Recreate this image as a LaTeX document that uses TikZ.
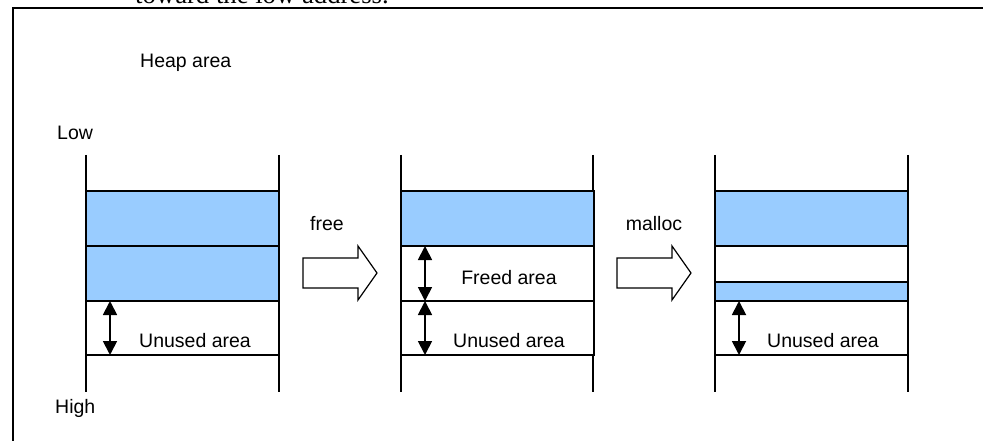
\documentclass[tikz,border=0pt]{standalone}
\usepackage{fontspec}
\setmainfont{Liberation Sans}
\newfontfamily\pageserif{Liberation Serif}
\usetikzlibrary{positioning,arrows.meta}
\definecolor{heapblue}{RGB}{153,204,255}
\tikzset{
  lane/.style={line width=1.3pt},
  cell/.style={draw, line width=1.3pt, minimum width=193pt, inner sep=0pt, outer sep=0pt},
  used/.style={cell, fill=heapblue},
  spare/.style={cell, fill=white},
  span/.style={line width=1.8pt, {Triangle[width=14pt,length=14pt]}-{Triangle[width=14pt,length=14pt]}},
  hollow/.style={draw, line width=1.2pt, fill=white},
  txt/.style={font=\fontsize{19.5}{22}\selectfont, inner sep=0pt, anchor=base}
}
\begin{document}
\begin{tikzpicture}[x=1pt, y=-1pt]
    \clip (0,0) rectangle (983,441);
    % Page text cut by the top edge
    \node[txt, anchor=base west, font=\pageserif\fontsize{26.7}{30}\selectfont] (pagetext) at (135,4) {toward the low address.};

    % Frame and titles
    \draw[line width=2pt] (13,450) |- (990,8);
    \node[txt, anchor=base west] (heap) at (140,68) {Heap area};
    \node[txt, anchor=base west] (low) at (57,140) {Low};
    \node[txt, anchor=base west] (high) at (55,413) {High};

    % Lifelines of the three heaps
    \foreach \x in {86,279,401,593,715,908}
        \draw[lane] (\x,155) -- (\x,392);

    % Before free
    \node[used, minimum height=55pt, anchor=north west] (a1) at (86,191) {};
    \node[used, minimum height=55pt, below=0pt of a1] (a2) {};
    \node[spare, minimum height=54pt, below=0pt of a2] (a3) {};
    \draw[span] ([xshift=24pt]a3.north west) -- ([xshift=24pt]a3.south west);
    \node[txt] (a3text) at (195,347) {Unused area};

    % free
    \node[txt] (free) at (327,230) {free};
    \coordinate (freearrow) at (303,273);
    \draw[hollow] (freearrow) ++(0,-15) -- ++(55,0) -- ++(0,-12) -- ++(19,27)
        -- ++(-19,27) -- ++(0,-12) -- ++(-55,0) -- cycle;

    % After free
    \node[used, minimum height=55pt, anchor=north west] (b1) at (401,191) {};
    \node[spare, minimum height=55pt, below=0pt of b1] (b2) {};
    \node[spare, minimum height=54pt, below=0pt of b2] (b3) {};
    \draw[span] ([xshift=24pt]b2.north west) -- ([xshift=24pt]b2.south west);
    \draw[span] ([xshift=24pt]b3.north west) -- ([xshift=24pt]b3.south west);
    \node[txt] (b2text) at (509,284) {Freed area};
    \node[txt] (b3text) at (509,347) {Unused area};

    % malloc
    \node[txt] (malloc) at (654,230) {malloc};
    \coordinate (mallocarrow) at (617,273);
    \draw[hollow] (mallocarrow) ++(0,-15) -- ++(55,0) -- ++(0,-12) -- ++(19,27)
        -- ++(-19,27) -- ++(0,-12) -- ++(-55,0) -- cycle;

    % After malloc
    \node[used, minimum height=55pt, anchor=north west] (c1) at (715,191) {};
    \node[spare, minimum height=36pt, below=0pt of c1] (c2) {};
    \node[used, minimum height=19pt, below=0pt of c2] (c3) {};
    \node[spare, minimum height=54pt, below=0pt of c3] (c4) {};
    \draw[span] ([xshift=24pt]c4.north west) -- ([xshift=24pt]c4.south west);
    \node[txt] (c4text) at (823,347) {Unused area};
\end{tikzpicture}
\end{document}
